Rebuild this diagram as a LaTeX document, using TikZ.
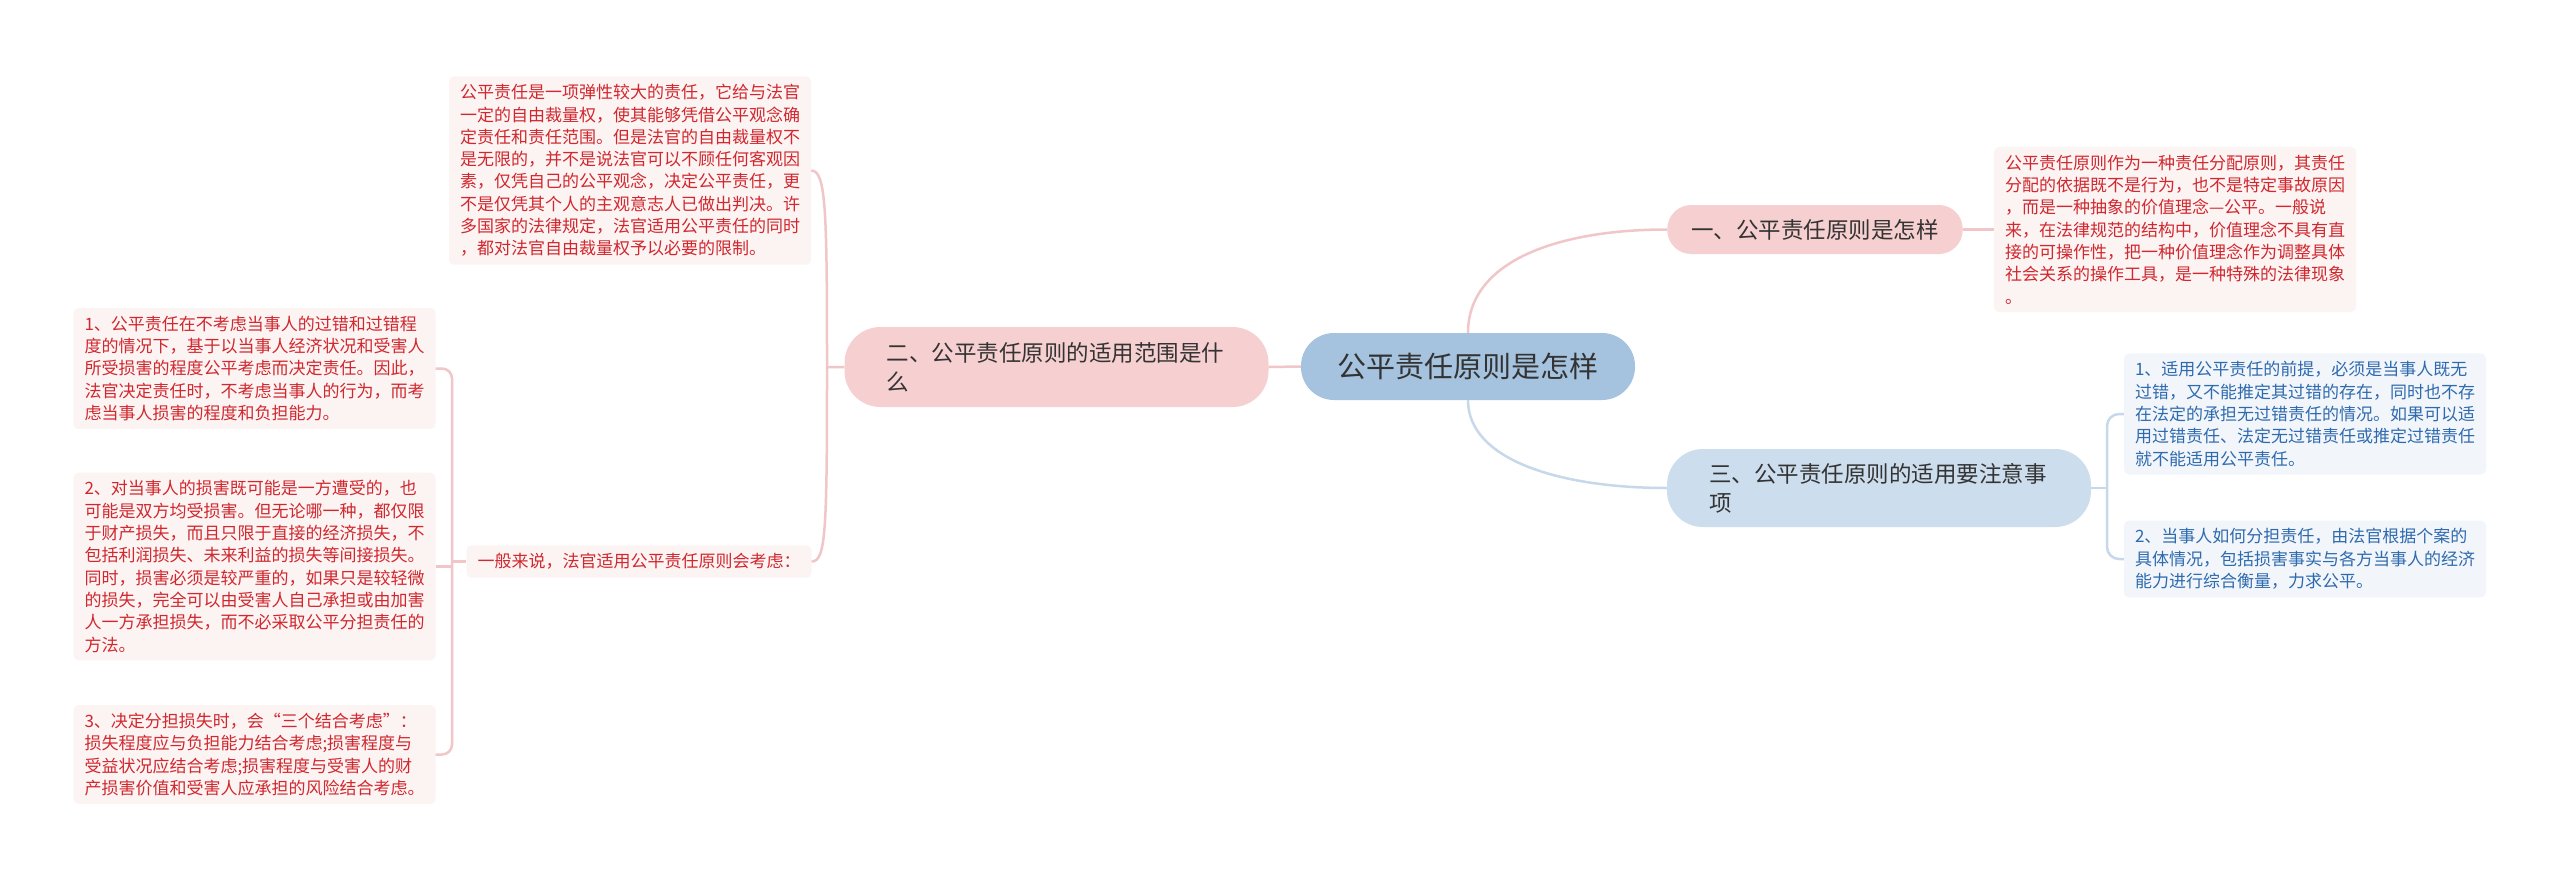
\documentclass[tikz,border=0pt]{standalone}
\usepackage{fontspec}
\newfontfamily\cjk{Noto Sans CJK SC}
\definecolor{rootblue}{HTML}{A5C3DE}
\definecolor{topicpink}{HTML}{F6CFD0}
\definecolor{topicblue}{HTML}{CCDDED}
\definecolor{notepink}{HTML}{FCF3F3}
\definecolor{noteblue}{HTML}{F2F6FB}
\definecolor{notered}{HTML}{D0282E}
\definecolor{notebluetext}{HTML}{2E6AAE}
\definecolor{linepink}{HTML}{F0C6C8}
\definecolor{lineblue}{HTML}{C6D8E9}
\begin{document}
\begin{tikzpicture}[x=1pt,y=-1pt,
  topic/.style={text=black!80, font=\cjk\fontsize{22.5}{29}\selectfont, align=left},
  note/.style={rounded corners=5pt, inner xsep=11pt, inner ysep=8pt, font=\cjk\fontsize{17}{22.3}\selectfont, align=left},
  pinknote/.style={note, fill=notepink, text=notered},
  bluenote/.style={note, fill=noteblue, text=notebluetext},
  pinkline/.style={draw=linepink, line width=2.5pt},
  blueline/.style={draw=lineblue, line width=2.5pt}]
\useasboundingbox[fill=white] (0,0) rectangle (2560,881);
% topics
\node[topic, fill=rootblue, font=\cjk\fontsize{29}{35}\selectfont, minimum width=334pt, minimum height=67pt, rounded corners=33pt] (root) at (1468,366.5) {公平责任原则是怎样};
\node[topic, fill=topicpink, inner xsep=24pt, minimum height=49pt, rounded corners=24pt] (n1) at (1815,229.5) {一、公平责任原则是怎样};
\node[topic, fill=topicpink, text width=340pt, inner xsep=42pt, minimum height=80pt, rounded corners=36pt] (n2) at (1056.5,367) {二、公平责任原则的适用范围是什\\么};
\node[topic, fill=topicblue, text width=340pt, inner xsep=42pt, minimum height=78pt, rounded corners=36pt] (n3) at (1879,488) {三、公平责任原则的适用要注意事\\项};
% notes, left side
\node[pinknote] (topbox) at (630,170.5) {公平责任是一项弹性较大的责任，它给与法官\\一定的自由裁量权，使其能够凭借公平观念确\\定责任和责任范围。但是法官的自由裁量权不\\是无限的，并不是说法官可以不顾任何客观因\\素，仅凭自己的公平观念，决定公平责任，更\\不是仅凭其个人的主观意志人已做出判决。许\\多国家的法律规定，法官适用公平责任的同时\\，都对法官自由裁量权予以必要的限制。};
\node[pinknote] (gen) at (639,561.5) {一般来说，法官适用公平责任原则会考虑：};
\node[pinknote] (box1) at (254.5,368.5) {1、公平责任在不考虑当事人的过错和过错程\\度的情况下，基于以当事人经济状况和受害人\\所受损害的程度公平考虑而决定责任。因此，\\法官决定责任时，不考虑当事人的行为，而考\\虑当事人损害的程度和负担能力。};
\node[pinknote] (box2) at (254.5,566.5) {2、对当事人的损害既可能是一方遭受的，也\\可能是双方均受损害。但无论哪一种，都仅限\\于财产损失，而且只限于直接的经济损失，不\\包括利润损失、未来利益的损失等间接损失。\\同时，损害必须是较严重的，如果只是较轻微\\的损失，完全可以由受害人自己承担或由加害\\人一方承担损失，而不必采取公平分担责任的\\方法。};
\node[pinknote] (box3) at (254.5,754.5) {3、决定分担损失时，会“三个结合考虑”：\\损失程度应与负担能力结合考虑;损害程度与\\受益状况应结合考虑;损害程度与受害人的财\\产损害价值和受害人应承担的风险结合考虑。};
% notes, right side
\node[pinknote] (rtbox) at (2175,229.5) {公平责任原则作为一种责任分配原则，其责任\\分配的依据既不是行为，也不是特定事故原因\\，而是一种抽象的价值理念—公平。一般说\\来，在法律规范的结构中，价值理念不具有直\\接的可操作性，把一种价值理念作为调整具体\\社会关系的操作工具，是一种特殊的法律现象\\。};
\node[bluenote] (r1) at (2305,414) {1、适用公平责任的前提，必须是当事人既无\\过错，又不能推定其过错的存在，同时也不存\\在法定的承担无过错责任的情况。如果可以适\\用过错责任、法定无过错责任或推定过错责任\\就不能适用公平责任。};
\node[bluenote] (r2) at (2305,559) {2、当事人如何分担责任，由法官根据个案的\\具体情况，包括损害事实与各方当事人的经济\\能力进行综合衡量，力求公平。};
% connectors
\draw[pinkline] (root.west) -- (n2.east);
\draw[pinkline] (root.north) .. controls (1468,260) and (1560,229.5) .. (n1.west);
\draw[blueline] (root.south) .. controls (1468,460) and (1560,488) .. (n3.west);
\draw[pinkline] (n1.east) -- (rtbox.west);
\coordinate (b2) at (827,367);
\draw[pinkline] (n2.west) -- (b2) .. controls (827,210) and (826,170.5) .. (topbox.east);
\draw[pinkline] (b2) .. controls (827,530) and (826,561.5) .. (gen.east);
\coordinate (b3) at (452,561.5);
\draw[pinkline, rounded corners=10pt] (box1.east) -| (b3) |- (box3.east);
\draw[pinkline] (gen.west) -- (b3);
\draw[pinkline] (box2.east) -- (box2.east -| b3);
\coordinate (b4) at (2107,488);
\draw[blueline, rounded corners=12pt] (r1.west) -| (b4) |- (r2.west);
\draw[blueline] (n3.east) -- (b4);
\end{tikzpicture}
\end{document}
